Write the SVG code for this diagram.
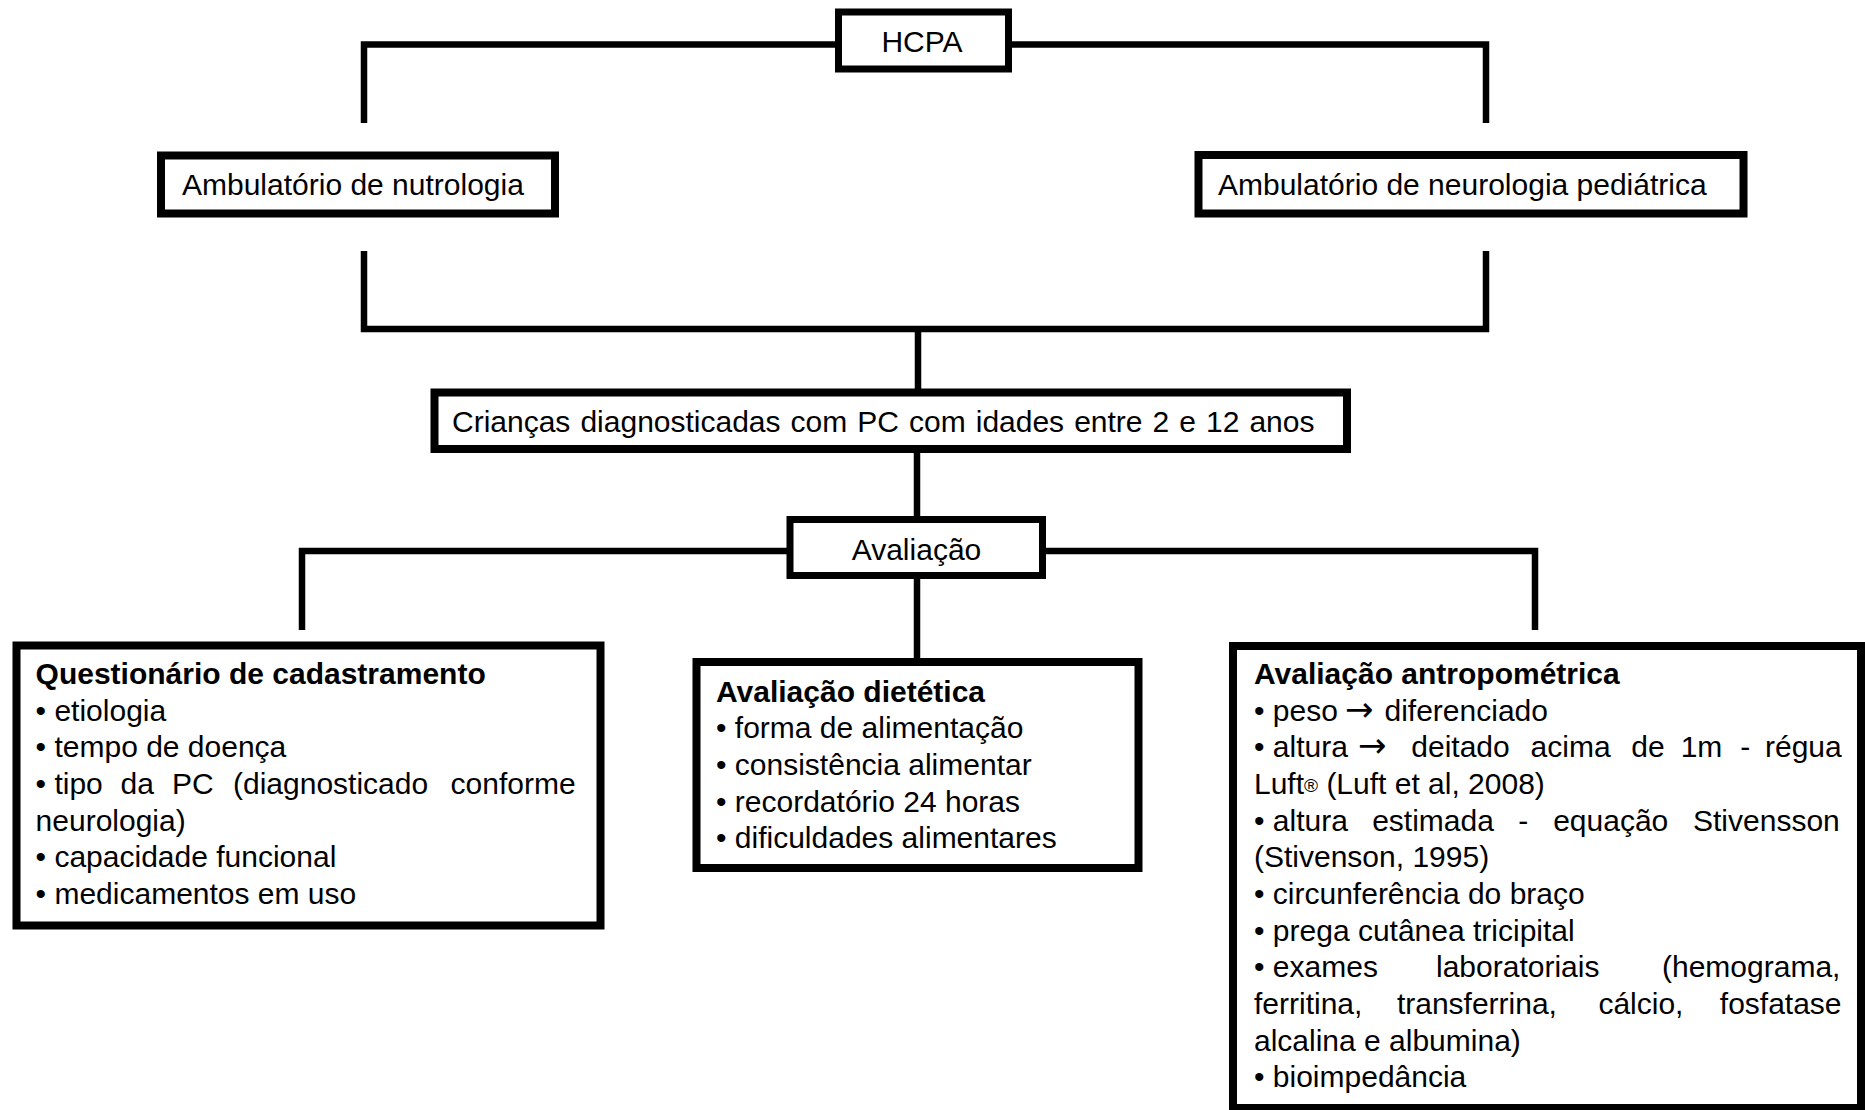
<svg xmlns="http://www.w3.org/2000/svg" width="1865" height="1110" viewBox="0 0 1865 1110">
<style>
.box{fill:#fff;stroke:#000;stroke-width:8}
.thin{stroke-width:7}
.conn{fill:none;stroke:#000;stroke-width:6.5;stroke-linejoin:miter}
text{font-family:"Liberation Sans",Arial,sans-serif;font-size:30px;fill:#000}
.b{font-weight:bold}
.reg{font-size:19px}
.arr{font-family:"Noto Sans","DejaVu Sans",sans-serif;font-size:34px}
</style>
<rect width="1865" height="1110" fill="#fff"/>
<g id="connectors">
<path class="conn" d="M364 123 V44.5 H836 M1011 44.5 H1486 V123"/>
<path class="conn" d="M364 251 V329 H1486 V251 M918 329 V390"/>
<path class="conn" d="M917 453 V517"/>
<path class="conn" d="M302 630 V551 H787 M1046 551 H1535 V630"/>
<path class="conn" d="M917 579 V659"/>
</g>
<g id="hcpa">
<rect class="box thin" x="838.5" y="12" width="170" height="57"/>
<text x="922" y="52" text-anchor="middle">HCPA</text>
</g>
<g id="nutrologia">
<rect class="box" x="161" y="155.5" width="394" height="58"/>
<text x="182" y="195">Ambulatório de nutrologia</text>
</g>
<g id="neurologia">
<rect class="box" x="1198.5" y="155" width="545" height="58.5"/>
<text x="1218" y="195">Ambulatório de neurologia pediátrica</text>
</g>
<g id="criancas">
<rect class="box" x="434.5" y="392.5" width="912.5" height="56.5"/>
<text x="452" y="432" word-spacing="1.7">Crianças diagnosticadas com PC com idades entre 2 e 12 anos</text>
</g>
<g id="avaliacao">
<rect class="box thin" x="790" y="519.5" width="252.5" height="56"/>
<text x="916.5" y="560" text-anchor="middle">Avaliação</text>
</g>
<g id="questionario">
<rect class="box" x="16.5" y="645.5" width="584" height="280"/>
<text x="35.6" y="684" class="b">Questionário de cadastramento</text>
<text x="35.6" y="720.7">• etiologia</text>
<text x="35.6" y="757.3">• tempo de doença</text>
<text y="794"><tspan x="35.6">• tipo</tspan><tspan x="120.6">da</tspan><tspan x="172">PC</tspan><tspan x="233">(diagnosticado</tspan><tspan x="450.6">conforme</tspan></text>
<text x="35.6" y="830.7">neurologia)</text>
<text x="35.6" y="867.3">• capacidade funcional</text>
<text x="35.6" y="904">• medicamentos em uso</text>
</g>
<g id="dietetica">
<rect class="box" x="696.5" y="662" width="442" height="206"/>
<text x="716" y="701.7" class="b">Avaliação dietética</text>
<text x="716" y="738.3">• forma de alimentação</text>
<text x="716" y="774.9">• consistência alimentar</text>
<text x="716" y="811.5">• recordatório 24 horas</text>
<text x="716" y="848.1">• dificuldades alimentares</text>
</g>
<g id="antropometrica">
<rect class="box" x="1233" y="646" width="628" height="462"/>
<text x="1254" y="684" class="b">Avaliação antropométrica</text>
<text y="720.7"><tspan x="1254">• peso</tspan><tspan x="1345" class="arr">→</tspan><tspan x="1384.5">diferenciado</tspan></text>
<text y="757.3"><tspan x="1254">• altura</tspan><tspan x="1358" class="arr">→</tspan><tspan x="1411.3">deitado</tspan><tspan x="1530.6">acima</tspan><tspan x="1631.3">de</tspan><tspan x="1680.7">1m</tspan><tspan x="1740.3">-</tspan><tspan x="1765">régua</tspan></text>
<text x="1254" y="794">Luft<tspan class="reg" dy="-2">®</tspan><tspan dy="2"> (Luft et al, 2008)</tspan></text>
<text y="830.7"><tspan x="1254">• altura</tspan><tspan x="1372.2">estimada</tspan><tspan x="1518.2">-</tspan><tspan x="1553.2">equação</tspan><tspan x="1693">Stivensson</tspan></text>
<text x="1254" y="867.3">(Stivenson, 1995)</text>
<text x="1254" y="904">• circunferência do braço</text>
<text x="1254" y="940.7">• prega cutânea tricipital</text>
<text y="977.3"><tspan x="1254">• exames</tspan><tspan x="1436">laboratoriais</tspan><tspan x="1662">(hemograma,</tspan></text>
<text y="1014"><tspan x="1254">ferritina,</tspan><tspan x="1396.9">transferrina,</tspan><tspan x="1598.4">cálcio,</tspan><tspan x="1719.8">fosfatase</tspan></text>
<text x="1254" y="1050.7">alcalina e albumina)</text>
<text x="1254" y="1087.3">• bioimpedância</text>
</g>
</svg>
